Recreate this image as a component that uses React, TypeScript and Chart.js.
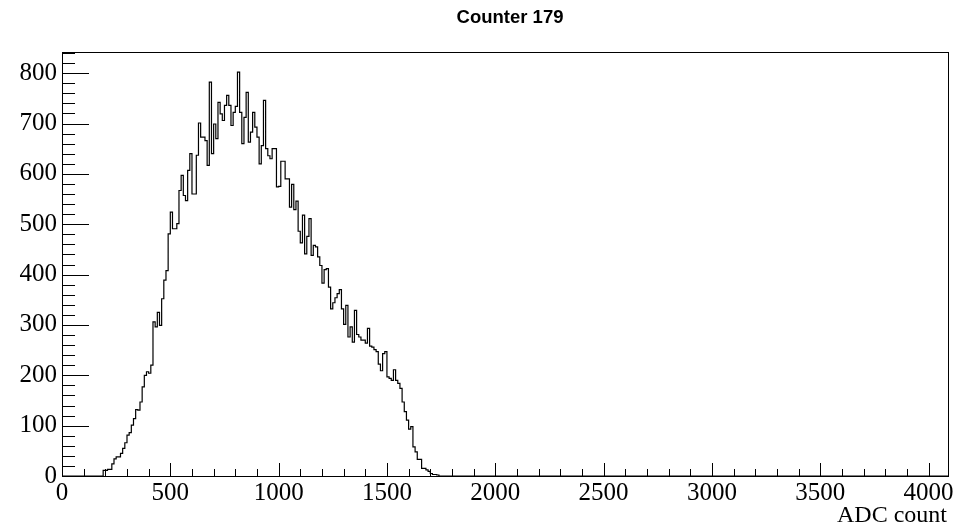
import React, { useEffect, useRef } from 'react';
import { Chart, registerables } from 'chart.js';

Chart.register(...registerables);

const titleText = 'Counter 179';
const xAxisTitle = 'ADC count';

// histogram binning (ADC counts)
const binStart = 190;
const binWidth = 10;
const counts = [
  11, 11, 13, 13, 24, 34, 38, 38, 45, 55,
  66, 81, 86, 101, 114, 132, 131, 147, 177, 200,
  207, 204, 220, 306, 296, 325, 299, 352, 389, 408,
  481, 524, 491, 491, 501, 567, 597, 557, 547, 607,
  640, 560, 560, 637, 701, 673, 673, 666, 617, 782,
  640, 699, 670, 742, 719, 706, 736, 756, 736, 696,
  722, 734, 802, 722, 660, 712, 762, 663, 683, 722,
  693, 673, 620, 656, 746, 650, 636, 630, 650, 650,
  574, 575, 625, 625, 590, 590, 534, 579, 529, 546,
  486, 463, 518, 441, 476, 511, 438, 458, 455, 435,
  418, 383, 410, 412, 375, 332, 344, 354, 362, 370,
  332, 301, 339, 276, 296, 266, 329, 281, 276, 270,
  270, 264, 293, 258, 256, 251, 247, 222, 209, 243,
  247, 197, 194, 190, 211, 190, 184, 174, 147, 128,
  111, 93, 98, 58, 48, 33, 33, 15, 15, 12,
  9, 5, 3, 3, 2, 0,
];

const xMin = 0;
const xMax = 4090;
const yMin = 0;
const yMax = 842;
const xMajorTicks = [0, 500, 1000, 1500, 2000, 2500, 3000, 3500, 4000];
const yMajorTicks = [0, 100, 200, 300, 400, 500, 600, 700, 800];
const xMinorStep = 100;
const yMinorStep = 20;

const serif = '"Liberation Serif", "DejaVu Serif", serif';
const sans = '"Liberation Sans", Arial, Helvetica, sans-serif';

const rootStylePlugin = {
  id: 'rootStyle',
  afterDraw(chart: any) {
    const ctx = chart.ctx;
    const area = chart.chartArea;
    const xs = chart.scales.x;
    const ys = chart.scales.y;
    ctx.save();
    ctx.strokeStyle = '#000';
    ctx.lineWidth = 1;
    // frame
    ctx.strokeRect(Math.round(area.left) + 0.5, Math.round(area.top) + 0.5,
      Math.round(area.right - area.left), Math.round(area.bottom - area.top));
    // y ticks (inward, to the right of axis)
    const yMajLen = 27;
    const yMinLen = 13;
    ctx.beginPath();
    for (let v = yMin; v <= yMax + 1e-6; v += yMinorStep) {
      const py = Math.round(ys.getPixelForValue(v)) + 0.5;
      const major = yMajorTicks.indexOf(v) >= 0;
      const len = major ? yMajLen : yMinLen;
      ctx.moveTo(area.left, py);
      ctx.lineTo(area.left + len, py);
    }
    // x ticks (inward, up from axis)
    const xMajLen = 13;
    const xMinLen = 7;
    for (let v = xMin; v <= xMax + 1e-6; v += xMinorStep) {
      const px = Math.round(xs.getPixelForValue(v)) + 0.5;
      const major = xMajorTicks.indexOf(v) >= 0;
      const len = major ? xMajLen : xMinLen;
      ctx.moveTo(px, area.bottom);
      ctx.lineTo(px, area.bottom - len);
    }
    ctx.stroke();
    // title
    ctx.fillStyle = '#000';
    ctx.font = 'bold 18.5px ' + sans;
    ctx.textAlign = 'center';
    ctx.textBaseline = 'alphabetic';
    ctx.fillText(titleText, 510, 23);
    // x axis title
    ctx.font = '24px ' + serif;
    ctx.textAlign = 'right';
    ctx.fillText(xAxisTitle, area.right - 1, 522);
    ctx.restore();
  },
};

export default function App() {
  const canvasRef = useRef<HTMLCanvasElement | null>(null);

  useEffect(() => {
    const canvas = canvasRef.current;
    if (!canvas) return;
    const points: { x: number; y: number }[] = [];
    points.push({ x: xMin, y: 0 });
    counts.forEach((c, i) => {
      points.push({ x: binStart + i * binWidth, y: c });
    });
    points.push({ x: binStart + counts.length * binWidth, y: 0 });
    points.push({ x: xMax, y: 0 });

    const chart = new Chart(canvas, {
      type: 'line',
      data: {
        datasets: [
          {
            data: points,
            stepped: 'before',
            borderColor: '#000',
            borderWidth: 1.2,
            pointRadius: 0,
            fill: false,
          },
        ],
      },
      options: {
        animation: false,
        responsive: false,
        devicePixelRatio: 1,
        layout: { padding: { top: 52, right: 10, left: 0, bottom: 0 } },
        plugins: {
          legend: { display: false },
          tooltip: { enabled: false },
          title: { display: false },
        },
        scales: {
          x: {
            type: 'linear',
            min: xMin,
            max: xMax,
            grid: { display: false, drawTicks: false },
            border: { display: false },
            afterBuildTicks: (scale: any) => {
              scale.ticks = xMajorTicks.map((v) => ({ value: v }));
            },
            afterFit: (scale: any) => {
              scale.height = 53;
            },
            ticks: {
              autoSkip: false,
              maxRotation: 0,
              padding: 2,
              color: '#000',
              font: { family: serif, size: 25 },
              callback: (v: any) => String(v),
            },
          },
          y: {
            type: 'linear',
            min: yMin,
            max: yMax,
            grid: { display: false, drawTicks: false },
            border: { display: false },
            afterBuildTicks: (scale: any) => {
              scale.ticks = yMajorTicks.map((v) => ({ value: v }));
            },
            afterFit: (scale: any) => {
              scale.width = 62;
            },
            ticks: {
              autoSkip: false,
              padding: 5,
              color: '#000',
              font: { family: serif, size: 25 },
              callback: (v: any) => String(v),
            },
          },
        },
      },
      plugins: [rootStylePlugin],
    });
    return () => {
      chart.destroy();
    };
  }, []);

  return (
    <div style={{ position: 'absolute', left: 0, top: 0, width: 958, height: 529, background: '#fff' }}>
      <canvas ref={canvasRef} width={958} height={529} style={{ width: 958, height: 529, display: 'block' }} />
    </div>
  );
}
